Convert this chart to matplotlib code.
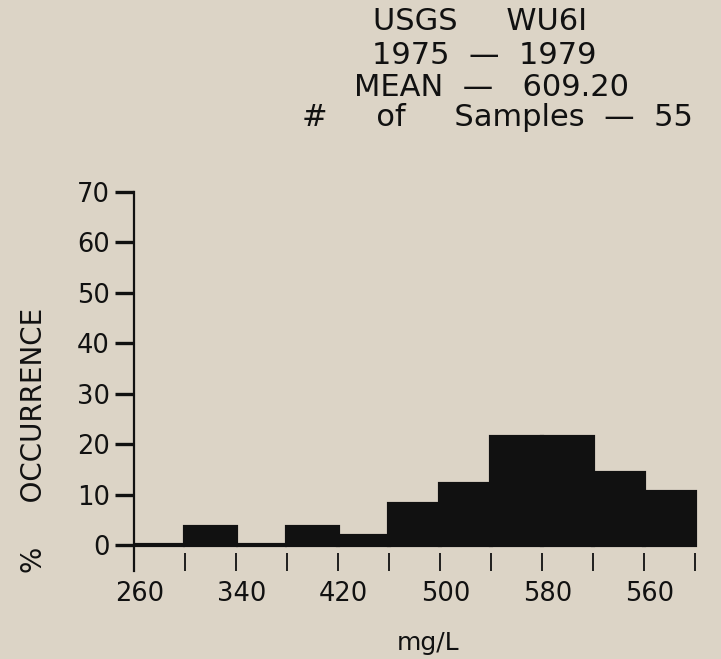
import matplotlib
matplotlib.use("Agg")
import matplotlib.pyplot as plt
import matplotlib.transforms as mtransforms
import numpy as np

# ---- data ----
bin_edges = [260, 300, 340, 380, 420, 460, 500, 540, 580, 620, 660, 700]
pct_occurrence = [0, 3.6, 0, 3.6, 1.8, 8.2, 12.2, 21.4, 21.4, 14.2, 10.6]
x_tick_values = [260, 300, 340, 380, 420, 460, 500, 540, 580, 620, 660, 700]
x_tick_labels = ["260", "", "340", "", "420", "", "500", "", "580", "", "560", ""]
y_tick_values = [0, 10, 20, 30, 40, 50, 60, 70]
y_tick_labels = ["0", "10", "20", "30", "40", "50", "60", "70"]
title_lines = ["USGS     WU6I", "1975  \u2014  1979", "MEAN  \u2014   609.20", "#     of     Samples  \u2014  55"]

BG = "#DCD4C6"
INK = "#111111"

W, H = 721, 659
fig = plt.figure(figsize=(W / 100, H / 100), dpi=100, facecolor=BG)
plt.rcParams['font.family'] = ['DejaVu Sans']

left_px, right_px = 133.7, 695.0
top_px, bot_px = 191.5, 570.5
ax = fig.add_axes([left_px / W, 1 - bot_px / H, (right_px - left_px) / W, (bot_px - top_px) / H])
ax.set_facecolor(BG)

edges = np.array(bin_edges)
widths = np.diff(edges)
ax.bar(edges[:-1], pct_occurrence, width=widths, align="edge",
       color=INK, edgecolor=INK, linewidth=3.0, clip_on=False, zorder=3)

ax.set_xlim(260, 700)
ax.set_ylim(-5, 70)

for s in ["top", "right"]:
    ax.spines[s].set_visible(False)
ax.spines["left"].set_linewidth(1.6)
ax.spines["left"].set_color(INK)
ax.spines["left"].set_bounds(-5, 70)
ax.spines["bottom"].set_position(("data", -1.6))
ax.spines["bottom"].set_visible(False)

ax.set_yticks(y_tick_values)
ax.set_yticklabels(y_tick_labels)
ax.tick_params(axis="y", direction="out", length=14, width=2.4, pad=3,
               labelsize=18.5, colors=INK)
ax.set_xticks(x_tick_values)
ax.set_xticklabels(x_tick_labels)
ax.tick_params(axis="x", direction="out", length=13, width=1.3, pad=7,
               labelsize=18.5, colors=INK)
offset = mtransforms.ScaledTranslation(6 / 100, 0, fig.dpi_scale_trans)
for lab in ax.get_xticklabels():
    lab.set_transform(lab.get_transform() + offset)

# axis labels
fig.text(34 / W, 1 - 440 / H, "%     OCCURRENCE", rotation=90, ha="center", va="center",
         fontsize=20, color=INK)
fig.text(428 / W, 1 - 643 / H, "mg/L", ha="center", va="center", fontsize=18, color=INK)

# title block
title_x = [480, 484, 492, 497]
title_y = [22, 55, 88, 117]
for t, xx, yy in zip(title_lines, title_x, title_y):
    fig.text(xx / W, 1 - yy / H, t, ha="center", va="center", fontsize=22, color=INK)

fig.savefig("out.png", dpi=100, facecolor=BG)
